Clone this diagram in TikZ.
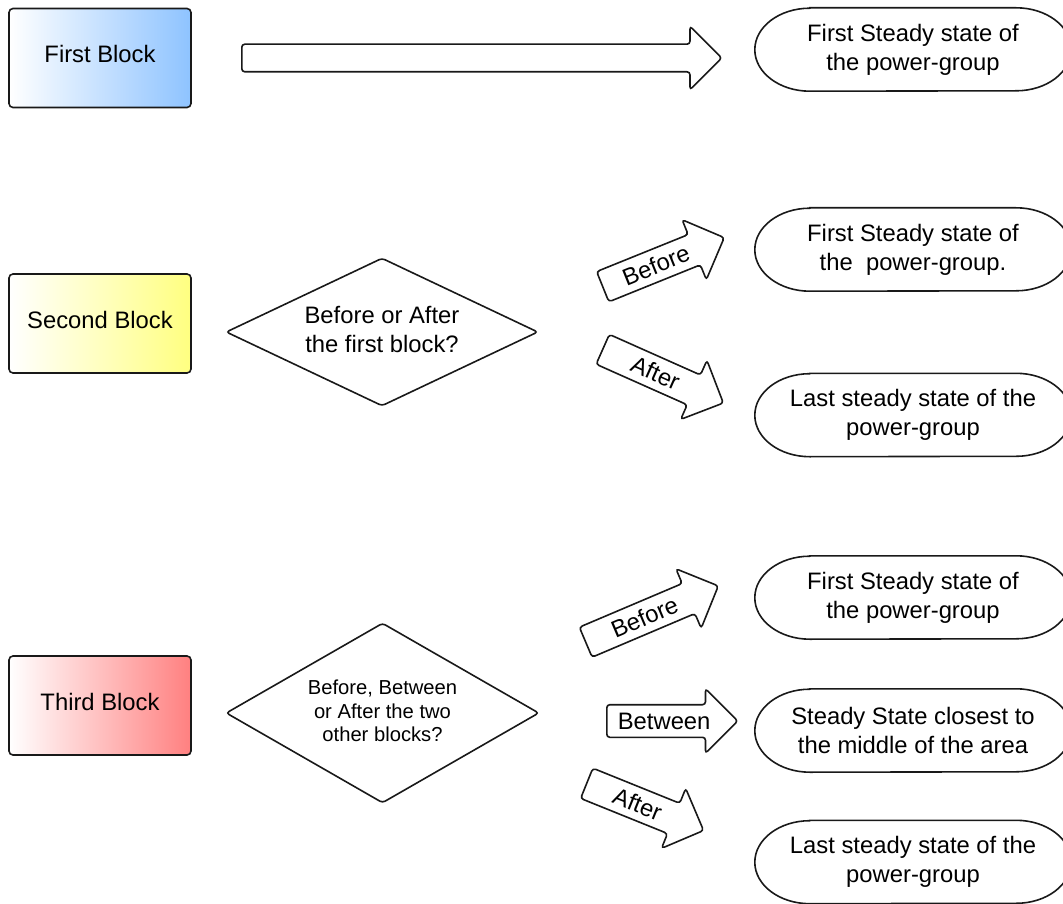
\documentclass[tikz,border=0pt]{standalone}
\usepackage{fontspec}
\setmainfont{Liberation Sans}
\usetikzlibrary{shapes.geometric,shapes.arrows}

\definecolor{blockblue}{RGB}{142,195,255}
\definecolor{blockyellow}{RGB}{255,255,128}
\definecolor{blockred}{RGB}{255,128,128}

\begin{document}
\begin{tikzpicture}[x=1pt,y=-1pt,
  every node/.style={font=\fontsize{23.8}{29}\selectfont},
  line/.style={draw=black!90, line width=1.6pt},
  block/.style={line, rounded corners=4pt, minimum width=182pt, minimum height=99pt,
                inner sep=0pt, left color=white, text height=17pt, text depth=7pt},
  decision/.style={line, diamond, rounded corners=3pt, inner sep=0pt, align=center},
  stateshape/.style={minimum width=316pt, minimum height=83pt, inner sep=0pt, align=center},
  barrow/.style={line, single arrow, rounded corners=3pt, anchor=tail,
                 single arrow head extend=16pt, single arrow head indent=0pt,
                 text height=17pt, text depth=0pt, inner ysep=7pt, inner xsep=4pt},
]
\path[use as bounding box] (0,0) rectangle (1063,904);
\clip (0,0) rectangle (1063,904);

% stadium outline with elliptic ends drawn around a named node
\newcommand{\statebox}[3]{%
  \node[stateshape] (#1) at #2 {#3};
  \draw[line] ([xshift=55pt]#1.north west) -- ([xshift=-55pt]#1.north east)
    arc[start angle=90, end angle=-90, x radius=55pt, y radius=41.5pt]
    -- ([xshift=55pt]#1.south west)
    arc[start angle=270, end angle=90, x radius=55pt, y radius=41.5pt] -- cycle;
}

% source blocks
\node[block, right color=blockblue] (first) at (100,58) {First Block};
\node[block, right color=blockyellow] (second) at (100,323.5) {Second Block};
\node[block, right color=blockred] (third) at (100,705.5) {Third Block};

% decisions
\node[decision, minimum width=312pt, minimum height=148pt, aspect=2.1,
      text depth=6pt] (q1) at (382,332)
  {Before or After\\the first block?};
\node[decision, minimum width=313pt, minimum height=180pt, aspect=1.74,
      text depth=4pt, font=\fontsize{20.2}{23.5}\selectfont] (q2) at (382.5,713)
  {Before, Between\\or After the two\\other blocks?};

% resulting states
\statebox{s1}{(913,49.5)}{First Steady state of\\the power-group}
\statebox{s2}{(913,249.5)}{First Steady state of\\the\ \ power-group.}
\statebox{s3}{(913,415)}{Last steady state of the\\power-group}
\statebox{s4}{(913,597.5)}{First Steady state of\\the power-group}
\statebox{s5}{(913,730.5)}{Steady State closest to\\the middle of the area}
\statebox{s6}{(913,862)}{Last steady state of the\\power-group}

% block arrows
\node[barrow, minimum height=480pt, text height=0pt, inner ysep=13pt,
      single arrow head extend=18pt] (a0) at (241,58) {};
\node[barrow, minimum height=131pt, rotate=22] (a1) at (602,287) {Before};
\node[barrow, minimum height=132pt, rotate=-24] (a2) at (602,349) {After};
\node[barrow, minimum height=144pt, rotate=23] (a3) at (585,642.5) {Before};
\node[barrow, minimum height=131pt] (a4) at (606,721) {Between};
\node[barrow, minimum height=126pt, rotate=-22] (a5) at (586,783) {After};
\end{tikzpicture}
\end{document}
